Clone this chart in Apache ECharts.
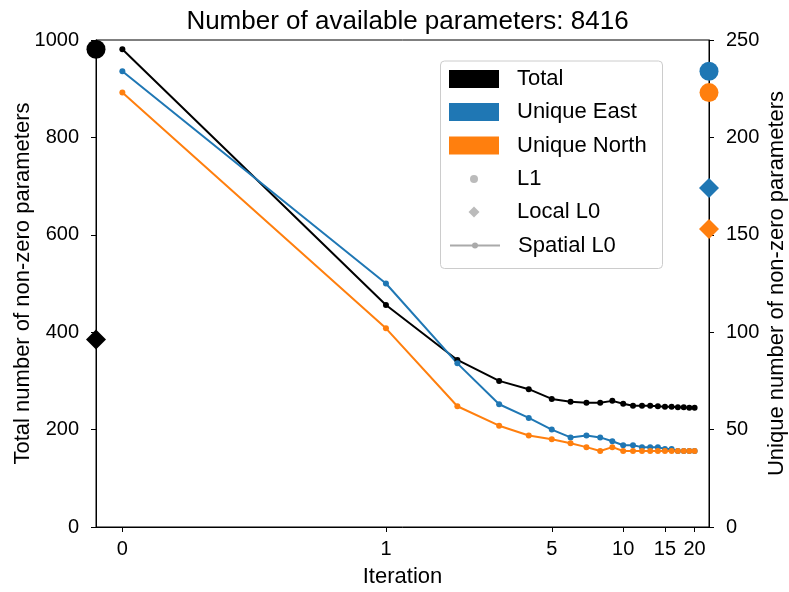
<!DOCTYPE html>
<html><head><meta charset="utf-8">
<script src="https://cdn.jsdelivr.net/npm/echarts@6/dist/echarts.min.js"></script>
<style>html,body{margin:0;padding:0;background:#fff}#c{width:789px;height:592px}</style>
</head><body><div id="c"></div>
<script>
// ---- data ----
const iterations = [0,1,2,3,4,5,6,7,8,9,10,11,12,13,14,15,16,17,18,19,20];
const totalSpatialL0 = [981,456,343,300,283,263,257,255,255,259,253,249,249,249,248,247,247,246,246,245,245];
const eastSpatialL0  = [234,125,84,63,56,50,46,47,46,44,42,42,41,41,41,40,40,39,39,39,39];
const northSpatialL0 = [223,102,62,52,47,45,43,41,39,41,39,39,39,39,39,39,39,39,39,39,39];
const totalL1 = [981];
const eastL1 = [234];
const northL1 = [223];
const totalLocalL0 = [385];
const eastLocalL0 = [174];
const northLocalL0 = [153];
const xTickValues = [0,1,5,10,15,20];
const xLimits = [-0.1, 23];
const title = 'Number of available parameters: 8416';

// ---- symlog scale (base 10, linthresh 1, linscale 1) ----
const LINSCALE = 1/(1-1/10);
function symlog(v){const a=Math.abs(v);return Math.sign(v)*(a<=1?a*LINSCALE:LINSCALE+Math.log10(a));}
function invSymlog(t){const a=Math.abs(t);return Math.sign(t)*(a<=LINSCALE?a/LINSCALE:Math.pow(10,a-LINSCALE));}
const xMin = symlog(xLimits[0]), xMax = symlog(xLimits[1]);

const FONT = '"Liberation Sans", Arial, sans-serif';
const BLACK='#000000', BLUE='#1f77b4', ORANGE='#ff7f0e', GRAY='#aaaaaa';

function lineSeries(name, vals, color, yi){
  return {name, type:'line', yAxisIndex:yi, data: iterations.map((it,i)=>[symlog(it), vals[i]]),
    symbol:'circle', symbolSize:6, showSymbol:true, color,
    lineStyle:{color, width:2}, itemStyle:{color}, emphasis:{disabled:true}, silent:true, z:3};
}
function markerSeries(name, x, vals, color, yi, symbol, size){
  return {name, type:'scatter', yAxisIndex:yi, data: vals.map(v=>[x, v]), symbol, symbolSize:size,
    itemStyle:{color, opacity:1}, clip:false, emphasis:{disabled:true}, silent:true, z:5};
}

// legend rows: icon box centred horizontally at 474, text starting at 517
const rowCenters = [79, 112, 145.5, 179, 212, 245.5];
const legendDefs = [
  {name:'Total', icon:'rect', w:50, h:18},
  {name:'Unique East', icon:'rect', w:50, h:18},
  {name:'Unique North', icon:'rect', w:50, h:18},
  {name:'L1', icon:'circle', w:8, h:8},
  {name:'Local L0', icon:'diamond', w:11, h:11},
  {name:'Spatial L0', icon:null, w:50, h:7.5}
];
const legends = legendDefs.map((d,i)=>{
  const item = {name:d.name};
  if (d.icon) item.icon = d.icon;
  const left = 474 - d.w/2;
  const pad = 517 - (left + d.w + 5);
  return {
    show:true, orient:'vertical', left:left, top: rowCenters[i]-11, padding:0, z:20,
    itemWidth:d.w, itemHeight:d.h, selectedMode:false, data:[item],
    textStyle:{fontFamily:FONT, fontSize:22, color:'#000', lineHeight:22, padding:[0,0,0,pad]}
  };
});

const chart = echarts.init(document.getElementById('c'), null, {renderer:'canvas'});
chart.setOption({
  animation:false,
  backgroundColor:'#fff',
  textStyle:{fontFamily:FONT},
  title:{text:title, left:402.5, textAlign:'center', top:4,
    textStyle:{fontFamily:FONT, fontSize:26, fontWeight:'normal', color:'#000'}},
  grid:{left:96, right:80, top:40, bottom:65, outerBoundsMode:'none', containLabel:false,
    show:true, borderColor:'#000', borderWidth:1, backgroundColor:'transparent'},
  legend: legends,
  graphic:[{type:'rect', left:440, top:60.5, z:1, silent:true,
    shape:{width:222, height:207.5, r:4},
    style:{fill:'rgba(255,255,255,0.8)', stroke:'#cccccc', lineWidth:1}}],
  xAxis:{type:'value', min:xMin, max:xMax,
    name:'Iteration', nameLocation:'middle', nameGap:39, nameMoveOverlap:false,
    nameTextStyle:{fontFamily:FONT, fontSize:22, color:'#000'},
    axisLine:{show:true, onZero:false, lineStyle:{color:'#000', width:1}},
    axisTick:{show:true, inside:false, length:5, customValues: xTickValues.map(symlog), lineStyle:{color:'#000'}},
    axisLabel:{show:true, margin:12, fontFamily:FONT, fontSize:20, color:'#000',
      customValues: xTickValues.map(symlog),
      formatter: v => String(Math.round(invSymlog(v)))},
    splitLine:{show:false}},
  yAxis:[
    {type:'value', position:'left', min:0, max:1000, interval:200,
      name:'Total number of non-zero parameters', nameLocation:'middle', nameGap:62, nameMoveOverlap:false,
      nameTextStyle:{fontFamily:FONT, fontSize:22, color:'#000'},
      axisLine:{show:true, onZero:false, lineStyle:{color:'#000', width:1}},
      axisTick:{show:true, inside:false, length:5, lineStyle:{color:'#000'}},
      axisLabel:{margin:17, fontFamily:FONT, fontSize:20, color:'#000', formatter: v => String(v)},
      splitLine:{show:false}},
    {type:'value', position:'right', min:0, max:250, interval:50,
      name:'Unique number of non-zero parameters', nameLocation:'middle', nameGap:57, nameMoveOverlap:false,
      nameRotate:90,
      nameTextStyle:{fontFamily:FONT, fontSize:22, color:'#000'},
      axisLine:{show:true, onZero:false, lineStyle:{color:'#000', width:1}},
      axisTick:{show:true, inside:false, length:5, lineStyle:{color:'#000'}},
      axisLabel:{margin:17, fontFamily:FONT, fontSize:20, color:'#000', formatter: v => String(v)},
      splitLine:{show:false}}
  ],
  series:[
    lineSeries('Total', totalSpatialL0, BLACK, 0),
    lineSeries('Unique East', eastSpatialL0, BLUE, 1),
    lineSeries('Unique North', northSpatialL0, ORANGE, 1),
    markerSeries('Total L1', xMin, totalL1, BLACK, 0, 'circle', 19),
    markerSeries('Total Local L0', xMin, totalLocalL0, BLACK, 0, 'diamond', 20),
    markerSeries('East L1', xMax, eastL1, BLUE, 1, 'circle', 19),
    markerSeries('North L1', xMax, northL1, ORANGE, 1, 'circle', 19),
    markerSeries('East Local L0', xMax, eastLocalL0, BLUE, 1, 'diamond', 20),
    markerSeries('North Local L0', xMax, northLocalL0, ORANGE, 1, 'diamond', 20),
    {name:'L1', type:'scatter', data:[], symbol:'circle', itemStyle:{color:GRAY}},
    {name:'Local L0', type:'scatter', data:[], symbol:'diamond', itemStyle:{color:GRAY}},
    {name:'Spatial L0', type:'line', data:[], symbol:'circle', symbolSize:6, color:GRAY,
      lineStyle:{color:GRAY, width:2}, itemStyle:{color:GRAY}}
  ]
});
</script></body></html>
